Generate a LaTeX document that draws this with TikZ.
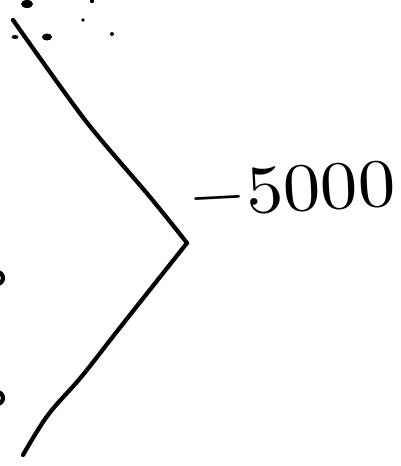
\documentclass[tikz,border=0pt]{standalone}
\usepackage{graphicx}
\tikzset{pen/.style={line width=2.4pt, line cap=round, line join=round}}
\begin{document}
\begin{tikzpicture}[x=0.02cm, y=-0.02cm]
  \useasboundingbox (0,0) rectangle (401,466);

  % Bracket corners
  \coordinate (top) at (13,20);
  \coordinate (tip) at (187,243);
  \coordinate (bot) at (23,455);

  % Upper and lower strokes of the bracket
  \draw[pen] plot[smooth, tension=0.5] coordinates {(top) (85,120) (150,197) (tip)};
  \draw[pen] plot[smooth, tension=0.6] coordinates {(tip) (122,325) (82,376) (48,415) (bot)};

  % Label
  \node[anchor=west, rotate=3, inner sep=0pt] (lbl) at (188,197) {\resizebox{118pt}{25pt}{$-5000$}};

  % Stray marks at the top
  \fill[black] (27,4) ellipse (6 and 4);
  \fill[black] (92,1) circle (2.2);
  \fill[black] (83,20) circle (1.8);
  \fill[black] (15,37) ellipse (3.5 and 2);
  \fill[black] (47,37) ellipse (5 and 3.5);
  \fill[black] (112,34) circle (2);

  % Partial marks at the left edge
  \draw[pen] (-3,284) arc (90:-90:6);
  \draw[pen] (-3,404) arc (90:-90:6);
\end{tikzpicture}
\end{document}
